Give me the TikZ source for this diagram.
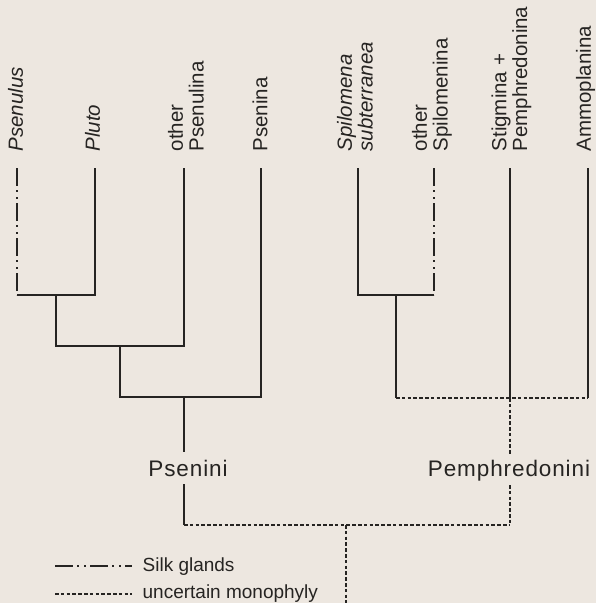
\documentclass[tikz,border=0pt]{standalone}
\usepackage{fontspec}
\setmainfont{Liberation Sans}
\definecolor{bgc}{RGB}{237,231,224}
\definecolor{ink}{RGB}{38,36,34}
\begin{document}
\begin{tikzpicture}[x=1pt,y=-1pt,
  line width=1.3pt, draw=ink,
  solidline/.style={draw=ink, line width=1.3pt},
  silk/.style={draw=ink, line width=1.3pt, dash pattern=on 18pt off 4pt on 2pt off 5pt on 2pt off 4pt},
  unc/.style={draw=ink, line width=1.3pt, dash pattern=on 3.5pt off 2.3pt},
  leaflab/.style={rotate=90, anchor=west, inner sep=0pt, align=left, text=ink,
     font=\fontsize{20.5}{20.7}\selectfont},
  tribe/.style={anchor=base, inner sep=0pt, text=ink,
     font=\fontsize{22.5}{24}\selectfont\addfontfeature{LetterSpace=4}},
  leglab/.style={anchor=base west, inner sep=0pt, text=ink,
     font=\fontsize{19}{21}\selectfont}]
\fill[bgc] (0,0) rectangle (596,603);
\useasboundingbox (0,0) rectangle (596,603);

% leaf labels
\node[leaflab] (lPsenulus) at (15.5,152) {\itshape Psenulus};
\node[leaflab] (lPluto) at (92.5,152) {\itshape Pluto};
\node[leaflab] (lOPsenulina) at (186,152) {other\\Psenulina};
\node[leaflab] (lPsenina) at (260,152) {Psenina};
\node[leaflab] (lSpilomena) at (355,152) {\itshape Spilomena\\\itshape subterranea};
\node[leaflab] (lOSpilomenina) at (432,152) {other\\Spilomenina};
\node[leaflab] (lStigmina) at (511.5,152) {Stigmina +\\Pemphredonina};
\node[leaflab] (lAmmo) at (585.5,152) {Ammoplanina};

% leaf tips
\coordinate (tPsenulus) at (17,168);
\coordinate (tPluto) at (95,168);
\coordinate (tOPsenulina) at (184,168);
\coordinate (tPsenina) at (261,168);
\coordinate (tSpilomena) at (358,168);
\coordinate (tOSpilomenina) at (434,168);
\coordinate (tStigmina) at (510,168);
\coordinate (tAmmo) at (588,168);

% junctions
\coordinate (j1) at (56,295);
\coordinate (j2) at (120,346);
\coordinate (j3) at (184,397);
\coordinate (j4) at (396,295);
\coordinate (j5) at (510,398);
\coordinate (root) at (346,525);

% tribe labels
\node[tribe] (psenini) at (188,476) {Psenini};
\node[tribe] (pemph) at (509,476) {Pemphredonini};
\coordinate (psTop) at (184,452);
\coordinate (psBot) at (184,484);
\coordinate (peTop) at (510,454);
\coordinate (peBot) at (510,485);

% Psenini clade
\draw[silk] (tPsenulus) -- (tPsenulus |- j1);
\draw[solidline] (tPsenulus |- j1) -- (tPluto |- j1) -- (tPluto);
\draw[solidline] (j1) -- (j1 |- j2) -- (tOPsenulina |- j2) -- (tOPsenulina);
\draw[solidline] (j2) -- (j2 |- j3) -- (tPsenina |- j3) -- (tPsenina);
\draw[solidline] (j3) -- (psTop);
\draw[solidline] (psBot) -- (psBot |- root);

% Pemphredonini clade
\draw[solidline] (tSpilomena) -- (tSpilomena |- j4) -- (tOSpilomenina |- j4);
\draw[silk] (tOSpilomenina) -- (tOSpilomenina |- j4);
\draw[solidline] (j4) -- (j4 |- j5);
\draw[solidline] (tStigmina) -- (j5);
\draw[solidline] (tAmmo) -- (tAmmo |- j5);
\draw[unc] (j4 |- j5) -- (tAmmo |- j5);
\draw[unc] (j5) -- (peTop);
\draw[unc] (peBot) -- (peBot |- root);
\draw[unc] (psBot |- root) -- (peBot |- root);
\draw[unc] (root) -- (346,603);

% legend
\coordinate (lg1a) at (55,566);
\coordinate (lg1b) at (132,566);
\coordinate (lg2a) at (55,594);
\coordinate (lg2b) at (132,594);
\draw[silk] (lg1a) -- (lg1b);
\draw[unc] (lg2a) -- (lg2b);
\node[leglab] (legSilk) at (142,571) {Silk glands};
\node[leglab] (legUnc) at (142,598) {uncertain monophyly};
\end{tikzpicture}
\end{document}
